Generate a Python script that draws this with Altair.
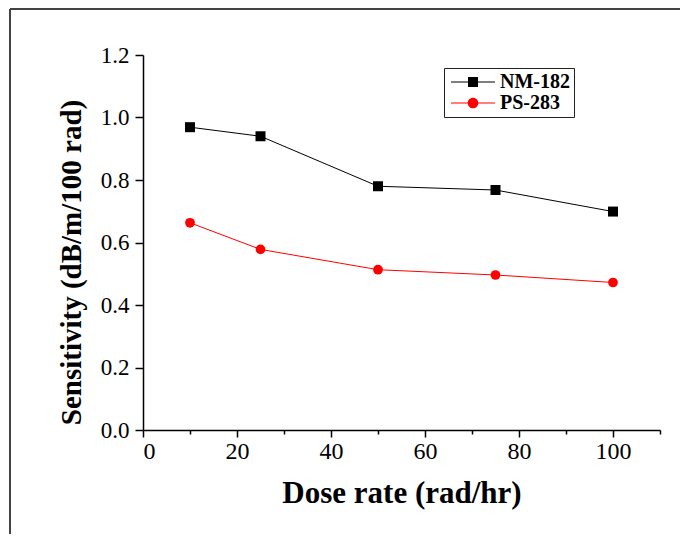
import altair as alt
import pandas as pd

# values
dose = [10, 25, 50, 75, 100]
nm182 = [0.969, 0.940, 0.780, 0.768, 0.699]
ps283 = [0.663, 0.578, 0.513, 0.496, 0.472]
series_names = ["NM-182", "PS-283"]
series_colors = ["black", "red"]

x_major_ticks = [0, 20, 40, 60, 80, 100]
x_minor_ticks = [10, 30, 50, 70, 90, 110]
y_ticks = [0.0, 0.2, 0.4, 0.6, 0.8, 1.0, 1.2]

df = pd.DataFrame({
    "dose": dose * 2,
    "value": nm182 + ps283,
    "series": [series_names[0]] * len(dose) + [series_names[1]] * len(dose),
})

FONT = "Liberation Serif"

x_scale = alt.Scale(domain=[0, 110], nice=False)
y_scale = alt.Scale(domain=[0, 1.2], nice=False)

x_major = alt.X("dose:Q", scale=x_scale, axis=alt.Axis(
    orient="bottom", values=x_major_ticks, tickSize=7, tickWidth=1.5,
    domainWidth=1.5, labelFont=FONT, labelFontSize=24, labelPadding=2, grid=False,
    title="Dose rate (rad/hr)", titleFont=FONT, titleFontSize=31, titleFontWeight="bold",
    titleBaseline="alphabetic", titleY=72))
x_minor = alt.X("dose:Q", scale=x_scale, axis=alt.Axis(
    orient="bottom", values=x_minor_ticks, tickSize=4, tickWidth=1.5,
    labels=False, domain=False, grid=False, title=None))
x_none = alt.X("dose:Q", scale=x_scale, axis=None)

y_enc = alt.Y("value:Q", scale=y_scale, axis=alt.Axis(
    values=y_ticks, format=".1f", tickSize=8, tickWidth=1.5, domainWidth=1.5,
    labelFont=FONT, labelFontSize=23, labelPadding=6, grid=False,
    title="Sensitivity (dB/m/100 rad)", titleFont=FONT, titleFontSize=29,
    titleFontWeight="bold", titleAngle=-90, titleAlign="center",
    titleBaseline="alphabetic", titleX=-63, titleY=207))

base = alt.Chart(df)

line_nm = base.transform_filter(alt.datum.series == series_names[0]).mark_line(
    color="black", strokeWidth=1).encode(x=x_major, y=y_enc)
line_ps = base.transform_filter(alt.datum.series == series_names[1]).mark_line(
    color="red", strokeWidth=1).encode(x=x_minor, y=y_enc)
pts_nm = base.transform_filter(alt.datum.series == series_names[0]).mark_point(
    shape="square", filled=True, color="black", size=100, opacity=1).encode(x=x_none, y=y_enc)
pts_ps = base.transform_filter(alt.datum.series == series_names[1]).mark_point(
    shape="circle", filled=True, color="red", size=95, opacity=1).encode(x=x_none, y=y_enc)

# legend symbols: line segment with the marker on it
sym_nm = "M-2.2,-0.05H2.2V0.05H-2.2Z M-0.5,-0.5H0.5V0.5H-0.5Z"
sym_ps = "M-2.2,-0.05H2.2V0.05H-2.2Z M-0.53,0A0.53,0.53 0 1,1 0.53,0A0.53,0.53 0 1,1 -0.53,0Z"

leg = alt.Legend(
    title=None, orient="none", legendX=301, legendY=13, padding=4,
    strokeColor="#222", fillColor="white", symbolSize=400, symbolOffset=15,
    symbolStrokeWidth=0, symbolOpacity=1, labelOffset=17, labelFont=FONT,
    labelFontSize=20, labelFontWeight="bold", labelColor="black", rowPadding=1)

legend_layer = base.mark_point(filled=True, opacity=0, size=400).encode(
    x=x_none, y=y_enc,
    color=alt.Color("series:N", scale=alt.Scale(domain=series_names, range=series_colors), legend=leg),
    shape=alt.Shape("series:N", scale=alt.Scale(domain=series_names, range=[sym_nm, sym_ps]), legend=leg),
)

# outer frame of the figure
frame_df = pd.DataFrame({"k": [0]})
frame_top = alt.Chart(frame_df).mark_rule(color="#444", strokeWidth=2).encode(
    x=alt.value(-133), x2=alt.value(540), y=alt.value(-46))
frame_left = alt.Chart(frame_df).mark_rule(color="#444", strokeWidth=2).encode(
    x=alt.value(-133), y=alt.value(-46), y2=alt.value(500))

chart = alt.layer(
    frame_top, frame_left, line_nm, line_ps, pts_nm, pts_ps, legend_layer
).resolve_axis(x="independent").properties(
    width=517, height=375,
    autosize=alt.AutoSizeParams(type="none"),
    padding={"left": 135, "top": 47, "right": 20, "bottom": 104},
).configure_view(stroke=None).configure_axis(
    domainColor="black", tickColor="black", labelColor="black", titleColor="black",
    labelFont=FONT, titleFont=FONT,
)

chart.save("out.html", embed_options={"renderer": "svg", "actions": False})
